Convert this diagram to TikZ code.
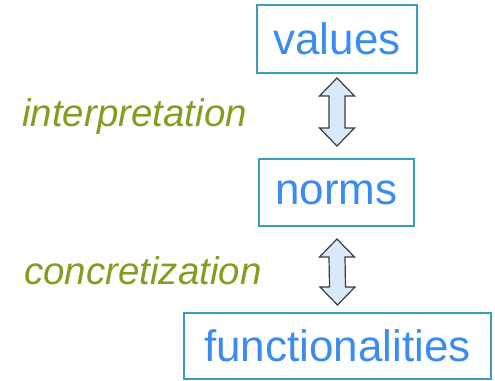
\documentclass[tikz,border=0pt]{standalone}
\usepackage{fontspec}
\setmainfont{Liberation Sans}
\usetikzlibrary{calc}

\definecolor{termblue}{RGB}{59,140,240}
\definecolor{boxline}{RGB}{58,158,185}
\definecolor{stepgreen}{RGB}{128,158,32}
\definecolor{arrowfill}{RGB}{218,232,252}
\definecolor{arrowline}{RGB}{60,60,60}

\begin{document}
\begin{tikzpicture}[x=1pt,y=1pt,
    term/.style={draw=boxline,line width=2pt,fill=white,text=termblue,
      font=\fontsize{44}{48}\selectfont,inner sep=0pt},
    step label/.style={text=stepgreen,font=\fontsize{38.5}{44}\selectfont\itshape,
      anchor=base west,inner sep=0pt},
    updown/.style={draw=arrowline,line width=1.2pt,fill=arrowfill,line join=miter}]
  \useasboundingbox (0,0) rectangle (495,380);

  \node[term,minimum width=160pt,minimum height=68pt] (values) at (337,341) {values};
  \node[term,minimum width=155pt,minimum height=67pt] (norms) at (336.5,187.5) {norms};
  \node[term,minimum width=307pt,minimum height=66pt] (functionalities) at (337.5,34) {functionalities};

  % tips of the double arrows
  \coordinate (valuestip) at ($(values.south)+(0,-4)$);
  \coordinate (normstopt) at ($(norms.north)+(0.5,12)$);
  \coordinate (normstip) at ($(norms.south)+(0.5,-12)$);
  \coordinate (functip) at ($(functionalities.north)+(0,7)$);

  \foreach \t/\b in {valuestip/normstopt, normstip/functip} {
    \draw[updown] (\t) -- ++(-17.5,-18) -- ++(9.5,0) -- ($(\b)+(-8,18)$)
      -- ++(-9.5,0) -- (\b) -- ++(17.5,18) -- ++(-9.5,0)
      -- ($(\t)+(8,-18)$) -- ++(9.5,0) -- cycle;
  }

  \node[step label] (interpretation) at (22,253) {interpretation};
  \node[step label] (concretization) at (24,95) {concretization};
\end{tikzpicture}
\end{document}
